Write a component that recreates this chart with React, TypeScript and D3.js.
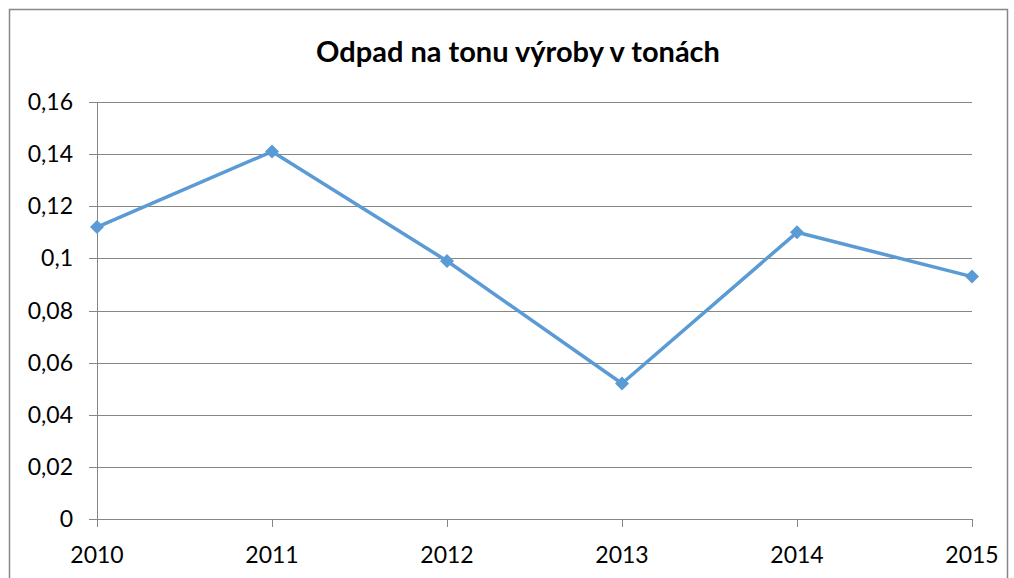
import React from "react";
import * as d3 from "d3";

const categories = ["2010", "2011", "2012", "2013", "2014", "2015"];
const values = [0.112, 0.141, 0.099, 0.052, 0.11, 0.093];
const yTicks = [0, 0.02, 0.04, 0.06, 0.08, 0.1, 0.12, 0.14, 0.16];
const title = "Odpad na tonu výroby v tonách";

export default function App() {
  const W = 1014, H = 578;
  const left = 97, right = 972, top = 102, bottom = 519;
  const x = d3.scalePoint<string>().domain(categories).range([left, right]);
  const y = d3.scaleLinear().domain([0, 0.16]).range([bottom, top]);
  const line = d3.line<number>().x((_, i) => x(categories[i])!).y((d) => y(d));
  const fmt = (v: number) => String(+v.toFixed(2)).replace(".", ",");
  const font = "Lato, 'Open Sans', sans-serif";
  return (
    <svg width={W} height={H} style={{ position: "absolute", left: 0, top: 0 }}>
      <rect x={0} y={0} width={W} height={H} fill="#fff" />
      <rect x={9.5} y={9.5} width={998} height={600} fill="#fff" stroke="#878787" strokeWidth={1.5} />
      <text x={518} y={62} textAnchor="middle" fontFamily={font} fontWeight="bold" fontSize={29} fill="#000">{title}</text>
      {yTicks.map((t) => (
        <g key={t}>
          <line x1={89} x2={right} y1={Math.round(y(t)) + 0.5} y2={Math.round(y(t)) + 0.5} stroke="#868686" strokeWidth={1} />
          <text x={73} y={y(t)} dy="0.35em" textAnchor="end" fontFamily={font} fontSize={23} fill="#000">{fmt(t)}</text>
        </g>
      ))}
      <line x1={left + 0.5} x2={left + 0.5} y1={top} y2={bottom + 8} stroke="#868686" />
      {categories.map((c) => (
        <g key={c}>
          <line x1={Math.round(x(c)!) + 0.5} x2={Math.round(x(c)!) + 0.5} y1={bottom} y2={bottom + 8} stroke="#868686" />
          <text x={x(c)} y={563} textAnchor="middle" fontFamily={font} fontSize={23} fill="#000">{c}</text>
        </g>
      ))}
      <path d={line(values)!} fill="none" stroke="#5B9BD5" strokeWidth={3.5} strokeLinejoin="round" />
      {values.map((v, i) => {
        const cx = x(categories[i])!, cy = y(v), r = 7;
        return <path key={i} d={`M${cx},${cy - r}L${cx + r},${cy}L${cx},${cy + r}L${cx - r},${cy}Z`} fill="#5B9BD5" />;
      })}
    </svg>
  );
}
